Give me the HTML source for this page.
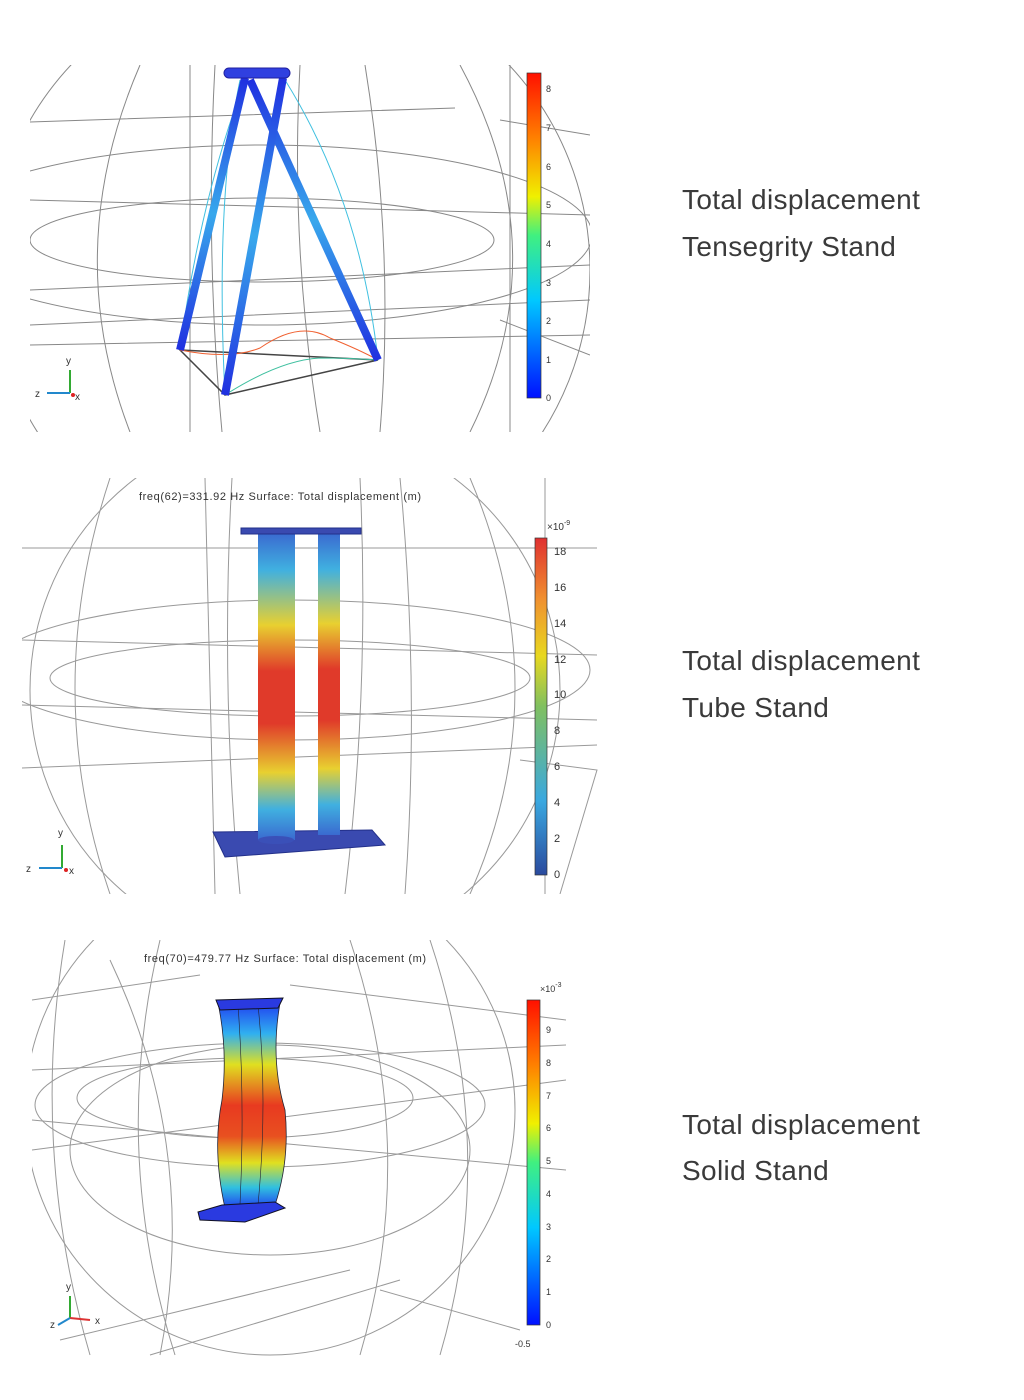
<!DOCTYPE html>
<html><head><meta charset="utf-8"><style>
body{margin:0;background:#fff;}
.t{position:absolute;left:682px;font-family:"Liberation Sans",sans-serif;font-size:28px;color:#3a3a3a;letter-spacing:0.35px;white-space:nowrap}
</style></head><body>
<div style="position:relative;width:1024px;height:1400px;overflow:hidden">
<svg width="1024" height="1400" style="position:absolute;left:0;top:0" font-family="Liberation Sans, sans-serif">
<defs>
<linearGradient id="jet" x1="0" y1="1" x2="0" y2="0">
<stop offset="0" stop-color="#0010ff"/><stop offset=".3" stop-color="#00c8ff"/><stop offset=".5" stop-color="#40f080"/><stop offset=".62" stop-color="#f0f000"/><stop offset=".8" stop-color="#ff8000"/><stop offset="1" stop-color="#ff1000"/></linearGradient>
<linearGradient id="jet2" x1="0" y1="1" x2="0" y2="0">
<stop offset="0" stop-color="#2a4a9e"/><stop offset=".22" stop-color="#3aa8e0"/><stop offset=".5" stop-color="#80c060"/><stop offset=".65" stop-color="#e8d820"/><stop offset=".82" stop-color="#f09030"/><stop offset="1" stop-color="#e03030"/></linearGradient>
<linearGradient id="tube" x1="0" y1="0" x2="0" y2="1">
<stop offset="0" stop-color="#3a6ad0"/><stop offset=".12" stop-color="#40b0e0"/><stop offset=".3" stop-color="#e8d030"/><stop offset=".45" stop-color="#e03a2a"/><stop offset=".62" stop-color="#e03a2a"/><stop offset=".78" stop-color="#e8d030"/><stop offset=".9" stop-color="#40b0e0"/><stop offset="1" stop-color="#3a6ad0"/></linearGradient>
<linearGradient id="solid" x1="0" y1="0" x2="0" y2="1">
<stop offset="0" stop-color="#2040f0"/><stop offset=".15" stop-color="#30b0f0"/><stop offset=".3" stop-color="#e0e020"/><stop offset=".5" stop-color="#e83a20"/><stop offset=".65" stop-color="#e85020"/><stop offset=".78" stop-color="#e0e020"/><stop offset=".9" stop-color="#30c0e0"/><stop offset="1" stop-color="#2040f0"/></linearGradient>
<linearGradient id="strut" x1="0" y1="0" x2="0" y2="1">
<stop offset="0" stop-color="#2030e0"/><stop offset=".5" stop-color="#38a8ec"/><stop offset="1" stop-color="#2030e0"/></linearGradient>
<clipPath id="c1"><rect x="30" y="65" width="560" height="367"/></clipPath>
<clipPath id="c2"><rect x="22" y="478" width="576" height="416"/></clipPath>
<clipPath id="c3"><rect x="32" y="940" width="534" height="416"/></clipPath>
</defs>

<g clip-path="url(#c1)" fill="none" stroke="#888" stroke-width="1">
<circle cx="290" cy="270" r="300"/>
<ellipse cx="262" cy="240" rx="232" ry="42"/>
<ellipse cx="262" cy="235" rx="330" ry="90"/>
<path d="M30 122 L455 108 M30 290 L590 265 M30 325 L590 300 M30 345 L590 335 M30 200 L590 215"/>
<path d="M190 65 L190 432 M215 65 Q205 250 222 432 M300 65 Q290 250 320 432 M365 65 Q395 250 380 432 M510 65 L510 432 M500 120 L590 135 M500 320 L590 355 M140 65 Q60 250 130 432 M460 65 Q560 250 470 432"/>
</g>
<g clip-path="url(#c1)">
<path d="M180 350 L225 395 L378 360 Z" fill="none" stroke="#444" stroke-width="1.5"/>
<path d="M180 350 Q230 360 260 348 Q300 320 330 338 Q360 350 378 360" fill="none" stroke="#f06030" stroke-width="1"/>
<path d="M225 395 Q280 360 320 358 Q350 358 378 360" fill="none" stroke="#40c0a0" stroke-width="1"/>
<path d="M245 80 Q200 200 180 350 M285 80 Q360 200 378 360 M240 80 Q215 200 225 395" fill="none" stroke="#40c0e0" stroke-width="1"/>
<line x1="245" y1="78" x2="180" y2="350" stroke="url(#strut)" stroke-width="8"/>
<line x1="250" y1="80" x2="378" y2="360" stroke="url(#strut)" stroke-width="8"/>
<line x1="283" y1="78" x2="225" y2="395" stroke="url(#strut)" stroke-width="8"/>
<rect x="224" y="68" width="66" height="10" rx="5" fill="#3040e0" stroke="#2020a0"/>
</g>
<g font-size="10" fill="#333">
<line x1="70" y1="393" x2="70" y2="370" stroke="#3a3" stroke-width="2"/><line x1="70" y1="393" x2="47" y2="393" stroke="#28c" stroke-width="2"/><circle cx="73" cy="395" r="2" fill="#d22"/>
<text x="66" y="364">y</text><text x="35" y="397">z</text><text x="75" y="400">x</text>
</g>
<rect x="527" y="73" width="14" height="325" fill="url(#jet)" stroke="#333" stroke-width=".7"/>
<g font-size="9" fill="#333">
<text x="546" y="92">8</text><text x="546" y="131">7</text><text x="546" y="170">6</text><text x="546" y="208">5</text><text x="546" y="247">4</text><text x="546" y="286">3</text><text x="546" y="324">2</text><text x="546" y="363">1</text><text x="546" y="401">0</text>
</g>

<g clip-path="url(#c2)" fill="none" stroke="#999" stroke-width="1">
<circle cx="295" cy="690" r="265"/>
<ellipse cx="290" cy="678" rx="240" ry="38"/>
<ellipse cx="290" cy="670" rx="300" ry="70"/>
<path d="M22 548 L597 548 M22 705 L597 720 M22 768 L597 745 M22 640 L597 655"/>
<path d="M205 478 L215 894 M232 478 Q220 690 240 894 M360 478 Q370 690 345 894 M400 478 Q420 690 405 894 M545 478 L545 894 M110 478 Q40 690 110 894 M470 478 Q560 690 470 894 M520 760 L597 770 L560 894"/>
</g>
<text x="139" y="500" font-size="11" fill="#333" letter-spacing="0.6">freq(62)=331.92 Hz   Surface: Total displacement (m)</text>
<path d="M213 832 L372 830 L385 845 L225 857 Z" fill="#3a4ab0" stroke="#23308a"/>
<rect x="258" y="533" width="37" height="307" fill="url(#tube)"/>
<ellipse cx="276" cy="840" rx="18" ry="4" fill="#3a50b8"/>
<rect x="318" y="533" width="22" height="302" fill="url(#tube)"/>
<rect x="241" y="528" width="120" height="6" fill="#3a4ab0" stroke="#23308a"/>
<g font-size="10" fill="#333">
<line x1="62" y1="868" x2="62" y2="845" stroke="#3a3" stroke-width="2"/><line x1="62" y1="868" x2="39" y2="868" stroke="#28c" stroke-width="2"/><circle cx="66" cy="870" r="2" fill="#d22"/>
<text x="58" y="836">y</text><text x="26" y="872">z</text><text x="69" y="874">x</text>
</g>
<rect x="535" y="538" width="12" height="337" fill="url(#jet2)" stroke="#333" stroke-width=".7"/>
<g font-size="11" fill="#333">
<text x="547" y="530" font-size="10">×10<tspan dy="-5" font-size="7">-9</tspan></text>
<text x="554" y="555">18</text><text x="554" y="591">16</text><text x="554" y="627">14</text><text x="554" y="663">12</text><text x="554" y="698">10</text><text x="554" y="734">8</text><text x="554" y="770">6</text><text x="554" y="806">4</text><text x="554" y="842">2</text><text x="554" y="878">0</text>
</g>

<g clip-path="url(#c3)" fill="none" stroke="#999" stroke-width="1">
<circle cx="270" cy="1110" r="245"/>
<ellipse cx="245" cy="1098" rx="168" ry="40"/>
<ellipse cx="260" cy="1105" rx="225" ry="62"/>
<ellipse cx="270" cy="1150" rx="200" ry="105"/>
<path d="M32 1000 L200 975 M290 985 L566 1020 M32 1070 L566 1045 M32 1120 L566 1170 M32 1150 L566 1080 M60 1340 L350 1270 M150 1355 L400 1280 M380 1290 L520 1330"/>
<path d="M65 940 Q30 1150 90 1355 M160 940 Q110 1150 175 1355 M350 940 Q420 1150 360 1355 M430 940 Q500 1150 440 1355 M110 960 Q200 1150 160 1355"/>
</g>
<text x="144" y="962" font-size="11" fill="#333" letter-spacing="0.6">freq(70)=479.77 Hz   Surface: Total displacement (m)</text>
<path d="M218 1003 L280 1003 Q270 1060 285 1110 Q290 1160 275 1205 L225 1208 Q212 1150 222 1100 Q228 1050 218 1003 Z" fill="url(#solid)" stroke="#223" stroke-width=".8"/>
<path d="M238 1005 Q245 1100 240 1205 M258 1005 Q268 1100 258 1205" stroke="#223" stroke-width=".6" fill="none"/>
<path d="M216 1000 L283 998 L278 1008 L220 1010 Z" fill="#2a3ae0" stroke="#112"/>
<path d="M198 1212 L222 1205 L275 1202 L285 1208 L245 1222 L200 1220 Z" fill="#2a3ae0" stroke="#112"/>
<g font-size="10" fill="#333">
<line x1="70" y1="1318" x2="70" y2="1296" stroke="#3a3" stroke-width="2"/><line x1="70" y1="1318" x2="90" y2="1320" stroke="#d33" stroke-width="2"/><line x1="70" y1="1318" x2="58" y2="1325" stroke="#28c" stroke-width="2"/>
<text x="66" y="1290">y</text><text x="50" y="1328">z</text><text x="95" y="1324">x</text>
</g>
<rect x="527" y="1000" width="13" height="325" fill="url(#jet)" stroke="#333" stroke-width=".7"/>
<g font-size="9" fill="#333">
<text x="540" y="992" font-size="9">×10<tspan dy="-5" font-size="7">-3</tspan></text>
<text x="546" y="1033">9</text><text x="546" y="1066">8</text><text x="546" y="1099">7</text><text x="546" y="1131">6</text><text x="546" y="1164">5</text><text x="546" y="1197">4</text><text x="546" y="1230">3</text><text x="546" y="1262">2</text><text x="546" y="1295">1</text><text x="546" y="1328">0</text>
<text x="515" y="1347">-0.5</text>
</g>
</svg>
<div class="t" style="top:184px">Total displacement</div>
<div class="t" style="top:231px">Tensegrity Stand</div>
<div class="t" style="top:645px">Total displacement</div>
<div class="t" style="top:692px">Tube Stand</div>
<div class="t" style="top:1109px">Total displacement</div>
<div class="t" style="top:1155px">Solid Stand</div>
</div>
</body></html>
